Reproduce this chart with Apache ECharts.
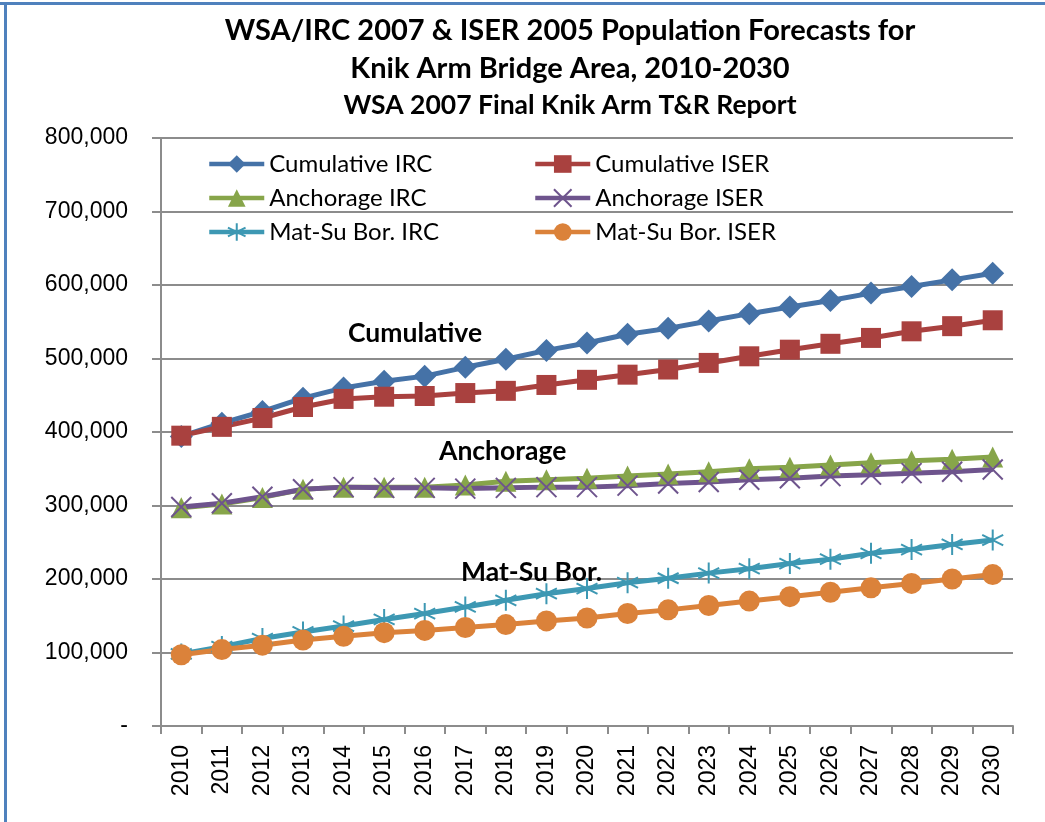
<!DOCTYPE html>
<html>
<head>
<meta charset="utf-8">
<script src="https://cdn.jsdelivr.net/npm/echarts@6/dist/echarts.min.js"></script>
<style>
  html, body { margin: 0; padding: 0; background: #fff; }
  #main { width: 1045px; height: 822px; }
</style>
</head>
<body>
<div id="main"></div>
<script>
var years = ['2010', '2011', '2012', '2013', '2014', '2015', '2016', '2017', '2018', '2019', '2020',
  '2021', '2022', '2023', '2024', '2025', '2026', '2027', '2028', '2029', '2030'];

var cumulativeIRC = [394000, 412000, 428000, 446000, 460000, 469000, 476000, 488000, 499000, 511000, 521000,
  533000, 541000, 551000, 561000, 570000, 579000, 589000, 598000, 607000, 616000];
var cumulativeISER = [395000, 407000, 419000, 434000, 445000, 448000, 449000, 453000, 456000, 464000, 471000,
  478000, 485000, 494000, 503000, 512000, 520000, 528000, 537000, 544000, 552000];
var anchorageIRC = [297000, 302000, 311000, 322000, 325000, 325000, 325000, 328000, 333000, 335000, 337000,
  340000, 343000, 346000, 350000, 352000, 355000, 358000, 361000, 363000, 366000];
var anchorageISER = [298000, 303000, 312000, 322000, 325000, 324000, 324000, 323000, 324000, 325000, 325000,
  327000, 330000, 332000, 335000, 337000, 340000, 342000, 344000, 346000, 349000];
var matSuIRC = [98000, 108000, 119000, 128000, 136000, 145000, 153000, 162000, 171000, 180000, 187000,
  195000, 201000, 208000, 214000, 221000, 227000, 235000, 240000, 247000, 253000];
var matSuISER = [97000, 104000, 110000, 117000, 122000, 127000, 130000, 134000, 138000, 143000, 147000,
  153000, 158000, 164000, 170000, 176000, 182000, 188000, 194000, 200000, 206000];

var yTicks = [0, 100000, 200000, 300000, 400000, 500000, 600000, 700000, 800000];

var uiFont = 'Lato';
var axisFont = 'Liberation Sans';

// marker shapes that ECharts doesn't have built in
var crossPath = 'path://M-10,-10 L10,10 M-10,10 L10,-10';
var starPath = 'path://M0,-10 L0,10 M-8.66,-5 L8.66,5 M-8.66,5 L8.66,-5';

function makeSeries(name, data, color, symbol, size, stroked) {
  return {
    name: name,
    type: 'line',
    data: data,
    symbol: symbol,
    symbolSize: size,
    showAllSymbol: true,
    lineStyle: { color: color, width: 5 },
    itemStyle: stroked
      ? { color: 'none', borderColor: color, borderWidth: 2 }
      : { color: color, borderWidth: 0 },
    emphasis: { disabled: true },
    animation: false
  };
}

var legendText = { fontFamily: uiFont, fontSize: 24, lineHeight: 24, color: '#000' };

var chart = echarts.init(document.getElementById('main'));

var option = {
  backgroundColor: '#fff',
  title: [
    {
      text: 'WSA/IRC 2007 & ISER 2005 Population Forecasts for\nKnik Arm Bridge Area, 2010-2030',
      left: 565,
      top: 7,
      textAlign: 'center',
      textStyle: { fontFamily: uiFont, fontWeight: 'bold', fontSize: 29, lineHeight: 38, color: '#000' }
    },
    {
      text: 'WSA 2007 Final Knik Arm T&R Report',
      left: 565,
      top: 87,
      textAlign: 'center',
      textStyle: { fontFamily: uiFont, fontWeight: 'bold', fontSize: 26.5, color: '#000' }
    }
  ],
  legend: [
    {
      orient: 'vertical',
      left: 202,
      top: 147,
      itemWidth: 55,
      itemHeight: 22,
      itemGap: 10,
      lineStyle: { width: 4.5 },
      data: ['Cumulative IRC', 'Anchorage IRC', 'Mat-Su Bor. IRC'],
      textStyle: legendText
    },
    {
      orient: 'vertical',
      left: 528,
      top: 147,
      itemWidth: 55,
      itemHeight: 22,
      itemGap: 10,
      lineStyle: { width: 4.5 },
      data: ['Cumulative ISER', 'Anchorage ISER', 'Mat-Su Bor. ISER'],
      textStyle: legendText
    }
  ],
  grid: { left: 161, right: 32, top: 138, bottom: 96 },
  xAxis: {
    type: 'category',
    data: years,
    boundaryGap: true,
    axisLine: { lineStyle: { color: '#8c8c8c', width: 2 } },
    axisTick: { show: true, length: 8, lineStyle: { color: '#8c8c8c', width: 2 } },
    axisLabel: { rotate: 90, margin: 19, fontFamily: axisFont, fontSize: 23, color: '#000', interval: 0 }
  },
  yAxis: {
    type: 'value',
    min: yTicks[0],
    max: yTicks[yTicks.length - 1],
    interval: yTicks[1] - yTicks[0],
    axisLine: { show: true, lineStyle: { color: '#8c8c8c', width: 2 } },
    axisTick: { show: true, length: 9, lineStyle: { color: '#8c8c8c', width: 2 } },
    splitLine: { lineStyle: { color: '#8c8c8c', width: 2 } },
    axisLabel: {
      margin: 33,
      fontFamily: axisFont,
      fontSize: 23,
      color: '#000',
      formatter: function (v) { return v === 0 ? '-' : v.toLocaleString('en-US'); }
    }
  },
  graphic: [
    // blue frame along top and left edge
    { type: 'rect', shape: { x: 0, y: 2, width: 1045, height: 3 }, style: { fill: '#4f81bd' }, silent: true },
    { type: 'rect', shape: { x: 4, y: 2, width: 3, height: 820 }, style: { fill: '#4f81bd' }, silent: true },
    { type: 'text', z: 100, x: 348, y: 333, style: { text: 'Cumulative', font: 'bold 26.5px Lato', fill: '#000', verticalAlign: 'middle' } },
    { type: 'text', z: 100, x: 439, y: 451, style: { text: 'Anchorage', font: 'bold 26.5px Lato', fill: '#000', verticalAlign: 'middle' } },
    { type: 'text', z: 100, x: 461, y: 572, style: { text: 'Mat-Su Bor.', font: 'bold 26.5px Lato', fill: '#000', verticalAlign: 'middle' } }
  ],
  series: [
    makeSeries('Cumulative IRC', cumulativeIRC, '#4572a7', 'diamond', 23, false),
    makeSeries('Cumulative ISER', cumulativeISER, '#a9413f', 'rect', 20, false),
    makeSeries('Anchorage IRC', anchorageIRC, '#87a54a', 'triangle', 21, false),
    makeSeries('Anchorage ISER', anchorageISER, '#6e548d', crossPath, 20, true),
    makeSeries('Mat-Su Bor. IRC', matSuIRC, '#3d98b3', starPath, 21, true),
    makeSeries('Mat-Su Bor. ISER', matSuISER, '#db823a', 'circle', 21, false)
  ]
};

option && chart.setOption(option);
</script>
</body>
</html>
